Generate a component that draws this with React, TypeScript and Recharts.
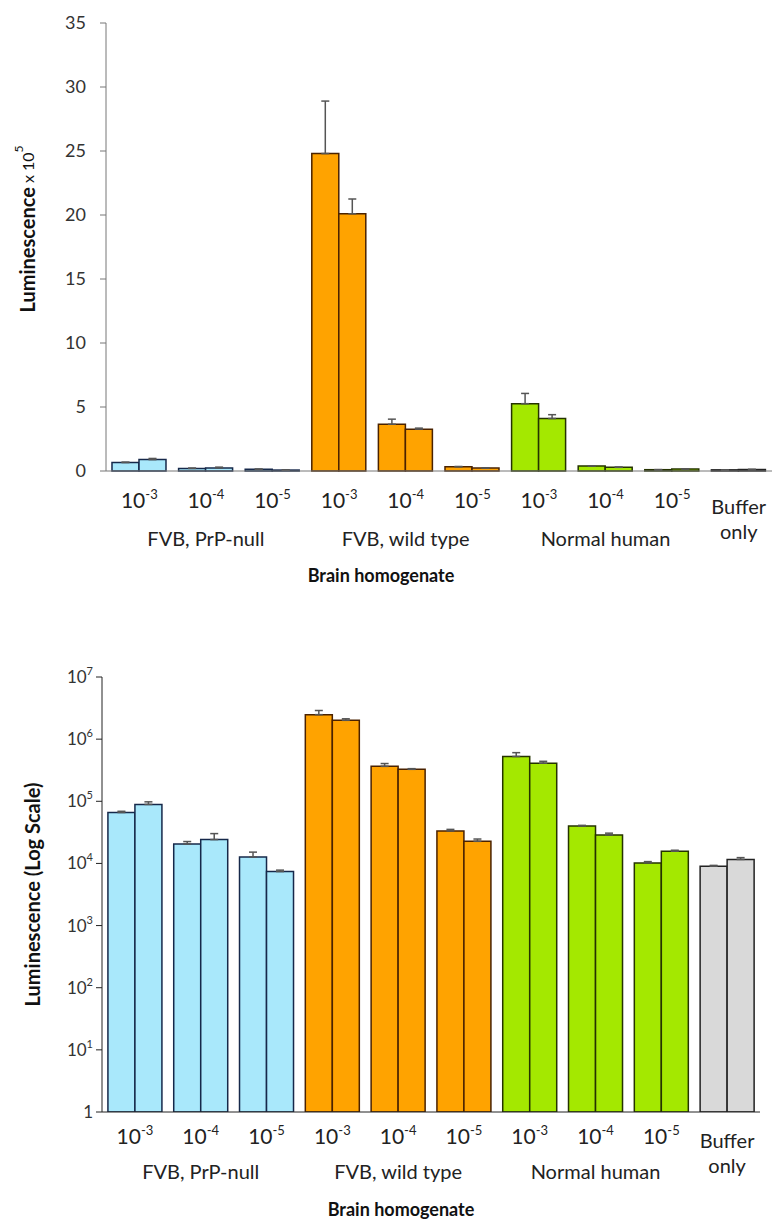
import { BarChart, Bar, XAxis, YAxis, ErrorBar, Cell, Label } from 'recharts';

const FONT = 'Lato, "Open Sans", sans-serif';

// categories along the x axis (three dilutions per brain homogenate + buffer)
const categoryIds = ['null-3', 'null-4', 'null-5', 'wt-3', 'wt-4', 'wt-5', 'hu-3', 'hu-4', 'hu-5', 'buffer'];
const dilutionExp = ['-3', '-4', '-5', '-3', '-4', '-5', '-3', '-4', '-5', ''];
const groupLabels = ['FVB, PrP-null', 'FVB, wild type', 'Normal human'];
const groupCenters = [1, 4, 7];
const bufferLabel = ['Buffer', 'only'];

// raw luminescence, two replicate wells per dilution
const rep1 = [66000, 20500, 12700, 2480000, 365000, 33300, 526000, 40000, 10200, 9000];
const rep2 = [89000, 24200, 7400, 2010000, 327000, 22700, 410000, 28700, 15700, 11600];
const err1 = [3000, 2000, 2500, 410000, 40000, 2000, 80000, 1000, 500, 300];
const err2 = [9000, 6000, 400, 115000, 8000, 2000, 30000, 2000, 600, 800];

const fills = ['#a9e8fb', '#a9e8fb', '#a9e8fb', '#ffa300', '#ffa300', '#ffa300', '#a4e800', '#a4e800', '#a4e800', '#d9d9d9'];
const strokes = ['#16284a', '#16284a', '#16284a', '#4a2200', '#4a2200', '#4a2200', '#253300', '#253300', '#253300', '#222222'];

const linearTicks = [0, 5, 10, 15, 20, 25, 30, 35];
const logTicks = [1, 10, 100, 1000, 10000, 100000, 1000000, 10000000];
const logExp = ['', '1', '2', '3', '4', '5', '6', '7'];
const edgeTicks = [0, 1, 2, 3, 4, 5, 6, 7, 8, 9, 10];

const buildRows = (div: number) =>
  categoryIds.map((id, i) => ({
    id,
    a: rep1[i] / div,
    b: rep2[i] / div,
    ea: [0, err1[i] / div],
    eb: [0, err2[i] / div],
  }));

type Offsets = { dil: number; buffer: number; only: number; group: number };

function CategoryTick({ x, y, payload, off }: { x?: number; y?: number; payload?: { index: number }; off: Offsets }) {
  if (x == null || y == null || !payload) return null;
  const i = payload.index;
  const exp = dilutionExp[i];
  const g = groupCenters.indexOf(i);
  const common = { textAnchor: 'middle' as const, fill: '#222', fontFamily: FONT, fontSize: 20 };
  return (
    <g>
      {exp ? (
        <text x={x} y={y + off.dil} {...common} fontSize={21}>
          10<tspan dy={-9} fontSize={13}>{exp}</tspan>
        </text>
      ) : (
        <>
          <text x={x} y={y + off.buffer} {...common}>{bufferLabel[0]}</text>
          <text x={x} y={y + off.only} {...common}>{bufferLabel[1]}</text>
        </>
      )}
      {g >= 0 && (
        <text x={x} y={y + off.group} {...common}>{groupLabels[g]}</text>
      )}
    </g>
  );
}

function LogTick({ x, y, payload }: { x?: number; y?: number; payload?: { value: number; index: number } }) {
  if (x == null || y == null || !payload) return null;
  const exp = logExp[payload.index];
  return (
    <text x={x} y={y + 6} textAnchor="end" fill="#333" fontFamily={FONT} fontSize={17}>
      {exp ? <>10<tspan dy={-8} fontSize={11}>{exp}</tspan></> : '1'}
    </text>
  );
}

const barProps = { strokeWidth: 1.5, isAnimationActive: false, xAxisId: 'cat' };

export default function App() {
  const linRows = buildRows(100000);
  const logRows = buildRows(1);

  const topOff: Offsets = { dil: 37, buffer: 43, only: 68, group: 75 };
  const botOff: Offsets = { dil: 32, buffer: 36, only: 61, group: 67 };

  const bars = (rows: typeof linRows) =>
    (['a', 'b'] as const).map(k => (
      <Bar key={k} dataKey={k} {...barProps}>
        {rows.map((_, i) => (
          <Cell key={i} fill={fills[i]} stroke={strokes[i]} />
        ))}
        <ErrorBar dataKey={k === 'a' ? 'ea' : 'eb'} width={4} stroke="#555" strokeWidth={1.5} direction="y" />
      </Bar>
    ));

  return (
    <div style={{ position: 'absolute', left: 0, top: 0, width: 775, height: 1221, overflow: 'hidden', background: '#fff', fontFamily: FONT }}>
      {/* linear scale panel */}
      <div style={{ position: 'absolute', left: 0, top: 0 }}>
        <BarChart width={775} height={600} data={linRows} barCategoryGap="9%" barGap={0}
          margin={{ top: 23, right: 3, left: 0, bottom: 0 }}>
          <XAxis xAxisId="edges" type="number" domain={[0, 10]} ticks={edgeTicks} tick={false}
            tickSize={4} axisLine={false} stroke="#555" height={1} />
          <XAxis xAxisId="cat" dataKey="id" type="category" interval={0} height={128}
            tickLine={false} tickSize={0} tickMargin={0} stroke="#777"
            tick={<CategoryTick off={topOff} />}>
            <Label content={({ viewBox }: any) => (
              <text x={viewBox.x + viewBox.width / 2 - 58} y={viewBox.y + 111} textAnchor="middle"
                fontFamily={FONT} fontSize={18} fontWeight={700} fill="#111">Brain homogenate</text>
            )} />
          </XAxis>
          <YAxis width={106} domain={[0, 35]} ticks={linearTicks} stroke="#777" tickSize={6} tickMargin={14}
            tick={{ fontSize: 18, fill: '#333', fontFamily: FONT }}>
            <Label content={({ viewBox }: any) => {
              const cx = viewBox.x + 27;
              const cy = viewBox.y + viewBox.height / 2 - 18;
              return (
                <text x={cx} y={cy} transform={`rotate(-90 ${cx} ${cy})`} textAnchor="middle"
                  dominantBaseline="central" fontFamily={FONT} fill="#111">
                  <tspan fontSize={20} fontWeight={700}>Luminescence</tspan>
                  <tspan fontSize={16}> x 10</tspan>
                  <tspan fontSize={12} dy={-9}>5</tspan>
                </text>
              );
            }} />
          </YAxis>
          {bars(linRows)}
        </BarChart>
      </div>

      {/* log scale panel */}
      <div style={{ position: 'absolute', left: 0, top: 620 }}>
        <BarChart width={775} height={601} data={logRows} barCategoryGap="9%" barGap={0}
          margin={{ top: 57, right: 15, left: 0, bottom: 0 }}>
          <XAxis xAxisId="edges" type="number" domain={[0, 10]} ticks={edgeTicks} tick={false}
            tickSize={4} axisLine={false} stroke="#333" height={1} />
          <XAxis xAxisId="cat" dataKey="id" type="category" interval={0} height={108}
            tickLine={false} tickSize={0} tickMargin={0} stroke="#222"
            tick={<CategoryTick off={botOff} />}>
            <Label content={({ viewBox }: any) => (
              <text x={viewBox.x + viewBox.width / 2 - 30} y={viewBox.y + 104} textAnchor="middle"
                fontFamily={FONT} fontSize={18} fontWeight={700} fill="#111">Brain homogenate</text>
            )} />
          </XAxis>
          <YAxis width={102} scale="log" domain={[1, 10000000]} ticks={logTicks} allowDataOverflow
            stroke="#222" tickSize={6} tickMargin={3} tick={<LogTick />}>
            <Label content={({ viewBox }: any) => {
              const cx = viewBox.x + 32;
              const cy = viewBox.y + viewBox.height / 2;
              return (
                <text x={cx} y={cy} transform={`rotate(-90 ${cx} ${cy})`} textAnchor="middle"
                  dominantBaseline="central" fontFamily={FONT} fontSize={20} fontWeight={700} fill="#111">
                  Luminescence (Log Scale)
                </text>
              );
            }} />
          </YAxis>
          {bars(logRows)}
        </BarChart>
      </div>
    </div>
  );
}
